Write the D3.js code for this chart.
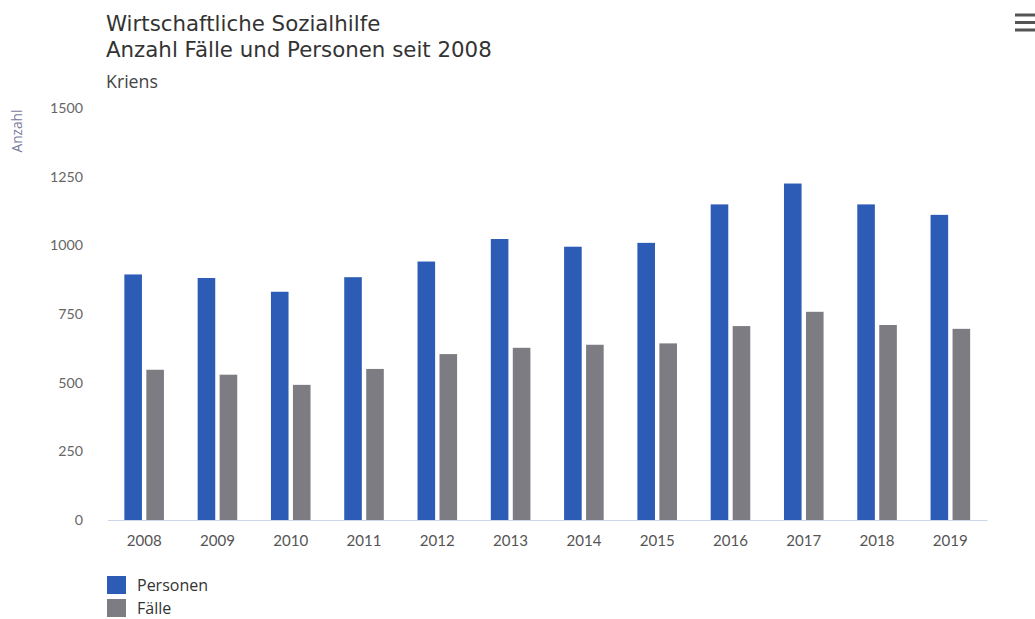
<!DOCTYPE html>
<html>
<head>
<meta charset="utf-8">
<script src="https://cdn.jsdelivr.net/npm/d3@7"></script>
<style>
  html, body { margin: 0; padding: 0; background: #ffffff; }
  svg { display: block; font-family: Lato, "Open Sans", sans-serif; }
</style>
</head>
<body>
<svg id="chart" width="1035" height="619"></svg>
<script>
const years = ["2008","2009","2010","2011","2012","2013","2014","2015","2016","2017","2018","2019"];
const personen = [894, 881, 831, 884, 941, 1023, 995, 1009, 1149, 1225, 1149, 1111];
const faelle = [547, 529, 492, 550, 604, 627, 638, 643, 706, 758, 710, 696];
const yTicks = [0, 250, 500, 750, 1000, 1250, 1500];
const seriesNames = ["Personen", "Fälle"];
const colors = ["#2c5cb6", "#7c7c82"];

const svg = d3.select("#chart");
const margin = {left: 107.5, right: 1035 - 987, top: 108, bottom: 619 - 520};

const x0 = d3.scaleBand().domain(years).range([margin.left, 1035 - margin.right]).paddingInner(0).paddingOuter(0);
const groupPad = 0.2;
const x1 = d3.scaleBand().domain(seriesNames)
  .range([x0.bandwidth() * groupPad, x0.bandwidth() * (1 - groupPad)])
  .paddingInner(0.2).paddingOuter(0.1);
const y = d3.scaleLinear().domain([0, 1500]).range([520, 108]);

function fitSize(text, family, w) {
  const t = svg.append("text").attr("font-size", 20).attr("font-family", family).text(text);
  const len = t.node().getComputedTextLength();
  t.remove();
  return 20 * w / len;
}

const titleFont = "'DejaVu Sans', sans-serif";
const bodyFont = "'Open Sans', sans-serif";
const titleFs = fitSize("Anzahl Fälle und Personen seit 2008", titleFont, 386);
// Titles
svg.append("text").attr("x", 106).attr("y", 31).attr("font-family", titleFont)
  .attr("font-size", titleFs).attr("fill", "#333")
  .text("Wirtschaftliche Sozialhilfe");
svg.append("text").attr("x", 106).attr("y", 57).attr("font-family", titleFont)
  .attr("font-size", titleFs).attr("fill", "#333")
  .text("Anzahl Fälle und Personen seit 2008");
svg.append("text").attr("x", 106).attr("y", 88).attr("font-family", bodyFont)
  .attr("font-size", fitSize("Kriens", bodyFont, 52)).attr("fill", "#444")
  .text("Kriens");

// Menu icon
const menu = svg.append("g").attr("transform", "translate(1015,0)");
[15, 22.5, 30].forEach(yy => menu.append("rect").attr("x", 0).attr("y", yy - 1.5).attr("width", 20).attr("height", 3).attr("fill", "#555"));

const tickFont = "Lato, sans-serif";
const yFs = fitSize("1500", tickFont, 33);
const xFs = fitSize("2008", tickFont, 35);

// Y axis
const yAxis = d3.axisLeft(y).tickValues(yTicks).tickSize(0).tickPadding(0).tickFormat(d3.format("d"));
const yg = svg.append("g").attr("transform", "translate(83,0)").call(yAxis);
yg.select(".domain").remove();
yg.selectAll("text").attr("font-size", yFs).attr("fill", "#666").attr("font-family", tickFont);

svg.append("text").attr("transform", "translate(22,131) rotate(-90)")
  .attr("text-anchor", "middle").attr("font-family", bodyFont)
  .attr("font-size", fitSize("Anzahl", bodyFont, 43)).attr("fill", "#7a7a9c").text("Anzahl");

// Bars
const g = svg.append("g");
const groups = g.selectAll("g.grp").data(years).join("g").attr("class", "grp")
  .attr("transform", d => `translate(${x0(d)},0)`);
groups.selectAll("rect").data((d, i) => [
  {s: seriesNames[0], v: personen[i], c: colors[0]},
  {s: seriesNames[1], v: faelle[i], c: colors[1]}
]).join("rect")
  .attr("x", d => x1(d.s)).attr("width", x1.bandwidth())
  .attr("y", d => y(d.v)).attr("height", d => y(0) - y(d.v))
  .attr("fill", d => d.c);

// X axis
const xAxis = d3.axisBottom(x0).tickSize(0).tickPadding(15);
const xg = svg.append("g").attr("transform", `translate(0,${y(0)})`).call(xAxis);
xg.select(".domain").attr("stroke", "#ccd6eb").attr("stroke-width", 1);
xg.selectAll("text").attr("font-size", xFs).attr("fill", "#555").attr("font-family", tickFont);

// Legend
const legFs = Math.min(16, fitSize("Personen", bodyFont, 78));
const leg = svg.append("g");
seriesNames.forEach((s, i) => {
  leg.append("rect").attr("x", 107).attr("y", 576 + i * 23).attr("width", 19).attr("height", 18).attr("fill", colors[i]);
  leg.append("text").attr("x", 137).attr("y", 591 + i * 23).attr("font-family", bodyFont)
    .attr("font-size", legFs).attr("fill", "#333").text(s);
});
</script>
</body>
</html>
